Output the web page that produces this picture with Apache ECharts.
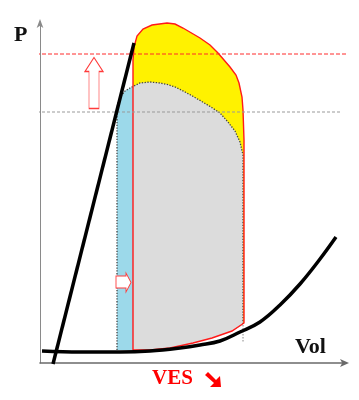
<!DOCTYPE html>
<html>
<head>
<meta charset="utf-8">
<script src="https://cdn.jsdelivr.net/npm/echarts@6/dist/echarts.min.js"></script>
<style>
html,body{margin:0;padding:0;background:#fff;}
#chart{width:359px;height:400px;}
</style>
</head>
<body>
<div id="chart"></div>
<script>
// ---- Data (volume V, pressure P, arbitrary units) ----
// End-systolic pressure-volume relation (ESPVR)
const espvrV = [6.5, 47];
const espvrP = [-0.5, 160];
// End-diastolic pressure-volume relation (EDPVR)
const edpvrV = [1, 20, 40, 55, 70, 80, 90, 100, 110, 120, 130, 140, 148];
const edpvrP = [6, 5.5, 5.5, 6, 7.5, 9, 11, 15.5, 20.5, 29, 39.5, 52, 63];
// Red loop (increased contractility), upper part from bottom-left to bottom-right
const redLoopV = [46.5, 46.5, 47, 48.5, 51.5, 56, 63.5, 67.5, 71.5, 80, 85, 89, 95, 98, 99.5, 101, 101.5, 102, 102];
const redLoopP = [6.5, 151.5, 158, 163.5, 167, 169, 170, 169.5, 167.5, 162.5, 159, 155, 148, 144, 140, 133, 126.5, 111.5, 20];
// Filling phase (bottom of loops), right to left
const fillingV = [96, 86, 76.5, 65, 55, 46.5];
const fillingP = [16, 12.5, 10, 7.5, 6.5, 6.5];
// Grey loop (baseline), upper part from bottom-left to bottom-right
const grayLoopV = [38.5, 38.5, 39, 40.5, 42.5, 45, 47, 50, 55, 60, 64, 68, 72, 76, 80, 85, 90, 94, 97.5, 100, 101.5, 101.5];
const grayLoopP = [6.5, 126.5, 130.5, 133.5, 136, 137.5, 138.5, 140, 140.5, 140, 139.2, 137.8, 135.8, 133.6, 131.3, 128.3, 125, 120.5, 116, 110.5, 104, 19];
// End-systolic volume drop line
const esvDropV = [101.5, 101.5];
const esvDropP = [19, 10];
// Blue region: stroke volume gain (grey loop left of red loop)
const blueV = [38.5, 38.5, 39, 40.5, 42.5, 45, 46.5, 46.5];
const blueP = [6.5, 126.5, 130.5, 133.5, 136, 137.5, 138.2, 6.5];
// Reference pressure levels and their extents
const levelP = [154.5, 125.5];
const levelStartV = [-5, -6.5];
const levelEndV = [153, 151];
// Annotation arrows (centre positions)
const arrowV = [27, 41.75];
const arrowP = [140, 40.25];
// Texts
const yName = 'P';
const xName = 'Vol';
const vesText = 'VES';

const zip = (a, b) => a.map((v, i) => [v, b[i]]);

const redClosed = zip(redLoopV.concat(fillingV), redLoopP.concat(fillingP));
const grayClosed = zip(grayLoopV.concat(fillingV), grayLoopP.concat(fillingP));
const blueClosed = zip(blueV, blueP);

function shapeSeries(points, kind, style, z) {
  return {
    type: 'custom',
    z: z,
    silent: true,
    data: [points[0]],
    renderItem: function (params, api) {
      return {
        type: kind,
        shape: { points: points.map(p => api.coord(p)) },
        style: style
      };
    }
  };
}

const chart = echarts.init(document.getElementById('chart'), null, { renderer: 'canvas' });

const upArrowPath = 'path://M9,0 L18,14 L14,14 L14,51 L4,51 L4,14 L0,14 Z';
const rightArrowPath = 'path://M0,3 L10,3 L10,0 L15,9.5 L10,19 L10,15 L0,15 Z';

chart.setOption({
  animation: false,
  backgroundColor: '#fff',
  grid: { left: 40, top: 22, right: 14, bottom: 37 },
  xAxis: {
    type: 'value', min: 0, max: 152.5,
    axisLine: { show: true, onZero: false, symbol: ['none', 'arrow'], symbolSize: [6, 9], symbolOffset: [0, 4], lineStyle: { color: '#6a6a6a', width: 1.6 } },
    axisTick: { show: false }, axisLabel: { show: false }, splitLine: { show: false }
  },
  yAxis: {
    type: 'value', min: 0, max: 170.5,
    axisLine: { show: true, onZero: false, symbol: ['none', 'arrow'], symbolSize: [5, 9], symbolOffset: [0, 3], lineStyle: { color: '#8a8a8a', width: 1 } },
    axisTick: { show: false }, axisLabel: { show: false }, splitLine: { show: false }
  },
  series: [
    shapeSeries(redClosed, 'polygon', { fill: '#fff200', stroke: null }, 1),
    shapeSeries(grayClosed, 'polygon', { fill: '#dcdcdc', stroke: null }, 2),
    shapeSeries(blueClosed, 'polygon', { fill: '#9cd9ea', stroke: null }, 3),
    shapeSeries(zip(grayLoopV, grayLoopP), 'polyline', { fill: null, stroke: '#444', lineWidth: 1.3, lineDash: [1.3, 1.5] }, 4),
    shapeSeries(zip(esvDropV, esvDropP), 'polyline', { fill: null, stroke: '#888', lineWidth: 1, lineDash: [1.5, 1.5] }, 4),
    shapeSeries(redClosed, 'polygon', { fill: null, stroke: '#ff1a1a', lineWidth: 1.4 }, 5),
    {
      type: 'line', z: 6, clip: false, symbol: 'none', silent: true,
      data: [[levelStartV[0], levelP[0]], [levelEndV[0], levelP[0]]],
      lineStyle: { color: '#ff2a2a', width: 1, type: [4, 2] }
    },
    {
      type: 'line', z: 6, clip: false, symbol: 'none', silent: true,
      data: [[levelStartV[1], levelP[1]], [levelEndV[1], levelP[1]]],
      lineStyle: { color: '#999', width: 1, type: [3, 2] }
    },
    {
      type: 'line', z: 7, clip: false, symbol: 'none', silent: true,
      data: zip(espvrV, espvrP),
      lineStyle: { color: '#000', width: 3.5 }
    },
    {
      type: 'line', z: 7, clip: false, symbol: 'none', silent: true, smooth: 0.4,
      data: zip(edpvrV, edpvrP),
      lineStyle: { color: '#000', width: 3.5 }
    },
    {
      type: 'scatter', z: 8, silent: true,
      data: [
        { value: [arrowV[0], arrowP[0]], symbol: upArrowPath, symbolSize: [18, 51] },
        { value: [arrowV[1], arrowP[1]], symbol: rightArrowPath, symbolSize: [15, 19] }
      ],
      itemStyle: { color: '#fff', borderColor: '#ff3b3b', borderWidth: 1, opacity: 1 }
    }
  ],
  graphic: [
    { type: 'text', left: 14, top: 24, z: 10, style: { text: yName, fill: '#111', font: 'bold 22px "Liberation Serif", serif' } },
    { type: 'text', left: 295, top: 336, z: 10, style: { text: xName, fill: '#111', font: 'bold 22px "Liberation Serif", serif' } },
    { type: 'text', left: 152, top: 368, z: 10, style: { text: vesText, fill: '#ff0000', font: 'bold 21px "Liberation Serif", serif' } },
    { type: 'polygon', x: 205, y: 372, z: 10, shape: { points: [[3,0],[11,8],[15,4],[16,15],[5,15],[9,11],[0,3]] }, style: { fill: '#ff0000' } }
  ]
});
</script>
</body>
</html>
